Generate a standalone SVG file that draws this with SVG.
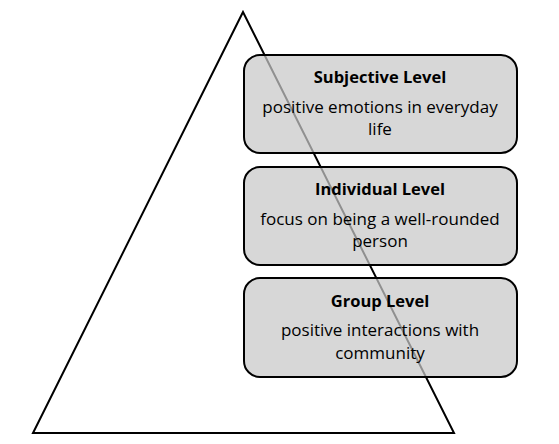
<svg xmlns="http://www.w3.org/2000/svg" width="559" height="444" viewBox="0 0 559 444">
<style>
.box{fill:#c8c8c8;fill-opacity:0.72;stroke:#000;stroke-width:2}
.t{font-family:"Open Sans","Liberation Sans",Arial,sans-serif;font-size:17px;fill:#000;text-anchor:middle}
.h{font-weight:bold;font-size:16.5px}
</style>
<rect width="559" height="444" fill="#fff"/>
<g id="connectors">
<polygon id="triangle" points="243,12 33,433 454,433" fill="none" stroke="#000" stroke-width="2"/>
</g>
<g id="subjective">
<rect class="box" x="244" y="55" width="273" height="98" rx="16"/>
<text class="t h" x="380" y="83">Subjective Level</text>
<text class="t" x="380" y="113">positive emotions in everyday</text>
<text class="t" x="380" y="135">life</text>
</g>
<g id="individual">
<rect class="box" x="244" y="167" width="273" height="98" rx="16"/>
<text class="t h" x="380" y="195">Individual Level</text>
<text class="t" x="380" y="225">focus on being a well-rounded</text>
<text class="t" x="380" y="247">person</text>
</g>
<g id="group">
<rect class="box" x="244" y="278" width="273" height="99" rx="16"/>
<text class="t h" x="380" y="307">Group Level</text>
<text class="t" x="380" y="336">positive interactions with</text>
<text class="t" x="380" y="359">community</text>
</g>
</svg>
